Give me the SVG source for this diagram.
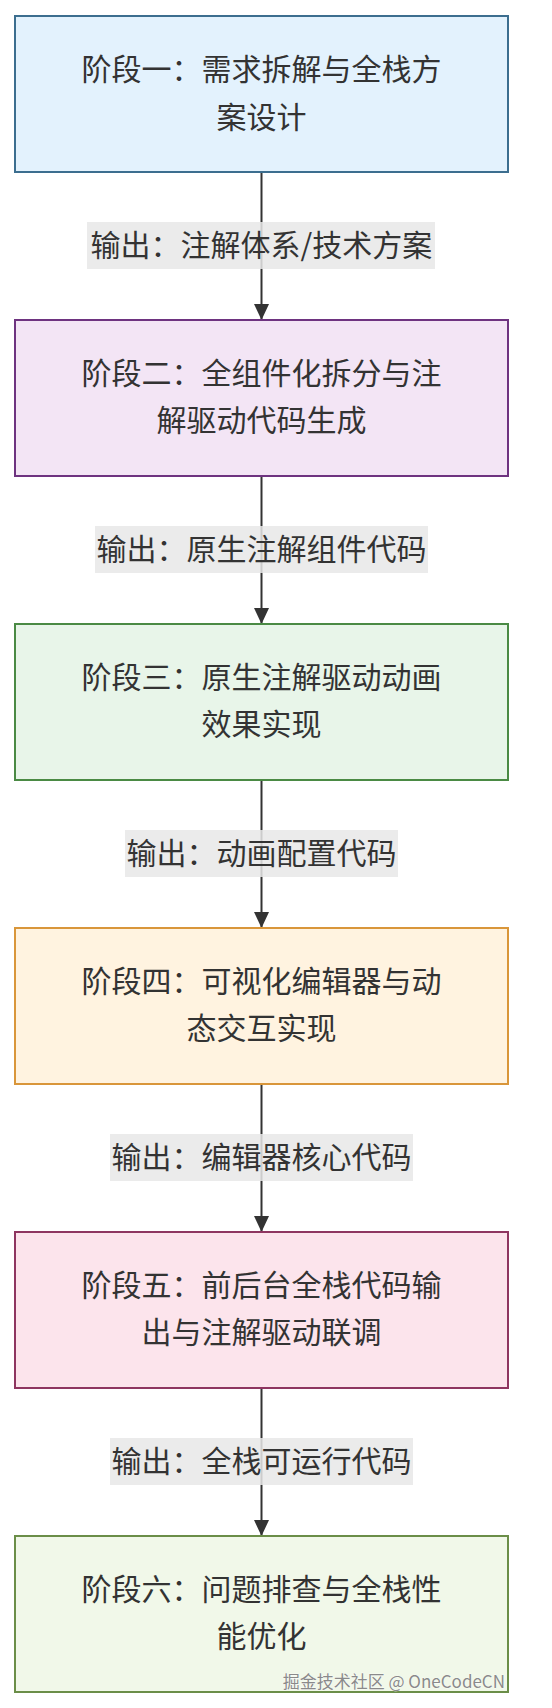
<svg xmlns="http://www.w3.org/2000/svg" width="552" height="1708" viewBox="0 0 552 1708">
<style>
text{font-family:"Noto Sans CJK SC","Noto Sans",sans-serif;font-size:30px;fill:#333;text-anchor:middle}
.box{stroke-width:2}
.edge{stroke:#333;stroke-width:2;fill:none}
.lbg{fill:#e8e8e8;fill-opacity:0.85}
.wm{font-size:17px;fill:#8a8a8a;text-anchor:end;stroke:#fff;stroke-width:0.6;paint-order:stroke}
</style>
<defs>
<marker id="arr" viewBox="0 0 16 15" refX="16" refY="7.5" markerWidth="16" markerHeight="15" markerUnits="userSpaceOnUse" orient="auto">
<path d="M0,0 L16,7.5 L0,15 Z" fill="#333"/>
</marker>
</defs>
<rect width="552" height="1708" fill="#fff"/>
<g id="connectors">
<line class="edge" x1="261.5" y1="172" x2="261.5" y2="320" marker-end="url(#arr)"/>
<line class="edge" x1="261.5" y1="476" x2="261.5" y2="624" marker-end="url(#arr)"/>
<line class="edge" x1="261.5" y1="780" x2="261.5" y2="928" marker-end="url(#arr)"/>
<line class="edge" x1="261.5" y1="1084" x2="261.5" y2="1232" marker-end="url(#arr)"/>
<line class="edge" x1="261.5" y1="1388" x2="261.5" y2="1536" marker-end="url(#arr)"/>
<g id="label1"><rect class="lbg" x="87" y="222" width="348" height="47"/><text x="261.5" y="256">输出：注解体系/技术方案</text></g>
<g id="label2"><rect class="lbg" x="95" y="526" width="333" height="47"/><text x="261.5" y="560">输出：原生注解组件代码</text></g>
<g id="label3"><rect class="lbg" x="125" y="830" width="273" height="47"/><text x="261.5" y="864">输出：动画配置代码</text></g>
<g id="label4"><rect class="lbg" x="110" y="1134" width="303" height="47"/><text x="261.5" y="1168">输出：编辑器核心代码</text></g>
<g id="label5"><rect class="lbg" x="110" y="1438" width="303" height="47"/><text x="261.5" y="1472">输出：全栈可运行代码</text></g>
</g>
<g id="node1">
<rect class="box" x="15" y="16" width="493" height="156" fill="#e3f2fd" stroke="#3c6e8f"/>
<text x="261.5" y="80">阶段一：需求拆解与全栈方</text>
<text x="261.5" y="128">案设计</text>
</g>
<g id="node2">
<rect class="box" x="15" y="320" width="493" height="156" fill="#f3e5f5" stroke="#6e3380"/>
<text x="261.5" y="384">阶段二：全组件化拆分与注</text>
<text x="261.5" y="431">解驱动代码生成</text>
</g>
<g id="node3">
<rect class="box" x="15" y="624" width="493" height="156" fill="#e8f5e9" stroke="#4a8a44"/>
<text x="261.5" y="688">阶段三：原生注解驱动动画</text>
<text x="261.5" y="735">效果实现</text>
</g>
<g id="node4">
<rect class="box" x="15" y="928" width="493" height="156" fill="#fff3e0" stroke="#d9963a"/>
<text x="261.5" y="992">阶段四：可视化编辑器与动</text>
<text x="261.5" y="1039">态交互实现</text>
</g>
<g id="node5">
<rect class="box" x="15" y="1232" width="493" height="156" fill="#fce4ec" stroke="#8e3560"/>
<text x="261.5" y="1296">阶段五：前后台全栈代码输</text>
<text x="261.5" y="1343">出与注解驱动联调</text>
</g>
<g id="node6">
<rect class="box" x="15" y="1536" width="493" height="156" fill="#f1f8e9" stroke="#6b8e48"/>
<text x="261.5" y="1600">阶段六：问题排查与全栈性</text>
<text x="261.5" y="1647">能优化</text>
</g>
<text class="wm" x="505" y="1688">掘金技术社区 @ OneCodeCN</text>
</svg>
